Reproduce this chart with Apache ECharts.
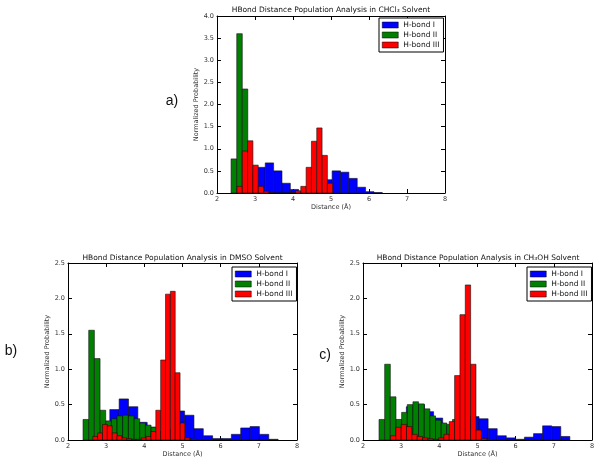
<!DOCTYPE html>
<html>
<head>
<meta charset="utf-8">
<script src="https://cdn.jsdelivr.net/npm/echarts@6/dist/echarts.min.js"></script>
<style>html,body{margin:0;padding:0;background:#fff}#chart{width:600px;height:464px}</style>
</head>
<body>
<div id="chart"></div>
<script>
// ---- data ----
const seriesNames = ['H-bond I', 'H-bond II', 'H-bond III'];
const seriesColors = ['#0000ff', '#008000', '#ff0000'];
const panelTitles = [
  'HBond Distance Population Analysis in CHCl\u2083 Solvent',
  'HBond Distance Population Analysis in DMSO Solvent',
  'HBond Distance Population Analysis in CH\u2083OH Solvent'
];
const panelLetters = ['a)', 'b)', 'c)'];
const xTickMin = 2, xTickMax = 8;
const yMaxA = 4.0, yMaxB = 2.5, yMaxC = 2.5;

// CHCl3
const chcl3BlueEdges = [2.83,3.05,3.27,3.49,3.71,3.93,4.15,4.37,4.59,4.81,5.03,5.25,5.47,5.69,5.91,6.13,6.35];
const chcl3BlueValues = [0.15,0.58,0.68,0.50,0.22,0.08,0.03,0.01,0.05,0.30,0.50,0.47,0.33,0.13,0.03,0.01];
const chcl3GreenEdges = [2.37,2.52,2.665,2.81,2.96,3.10];
const chcl3GreenValues = [0.77,3.60,2.35,0.45,0.10];
const chcl3RedEdges = [2.525,2.665,2.805,2.945,3.085,3.225,3.365,3.505,3.645,3.785,3.925,4.065,4.205,4.345,4.485,4.625,4.765,4.905,5.045];
const chcl3RedValues = [0.15,0.95,1.18,0.63,0.15,0.04,0.01,0,0,0,0.01,0.05,0.15,0.58,1.17,1.47,0.85,0.22];

// DMSO
const dmsoBlueEdges = [2.85,3.095,3.34,3.585,3.83,4.075,4.32,4.565,4.81,5.055,5.30,5.545,5.79,6.035,6.28,6.525,6.77,7.015,7.26,7.505];
const dmsoBlueValues = [0.20,0.43,0.58,0.47,0.25,0.18,0.12,0.15,0.41,0.35,0.16,0.06,0.02,0.02,0.08,0.17,0.19,0.08,0.01];
const dmsoGreenEdges = [2.394,2.543,2.691,2.840,2.988,3.137,3.285,3.434,3.582,3.731,3.879,4.028,4.176,4.325,4.473,4.622,4.770,4.919,5.067,5.216,5.364];
const dmsoGreenValues = [0.29,1.55,1.15,0.42,0.27,0.30,0.34,0.35,0.34,0.30,0.24,0.21,0.18,0.10,0.06,0.04,0.03,0.02,0.02,0.01];
const dmsoRedEdges = [2.650,2.777,2.904,3.031,3.158,3.285,3.412,3.539,3.666,3.793,3.920,4.047,4.174,4.301,4.428,4.555,4.682,4.809,4.936,5.063,5.190];
const dmsoRedValues = [0.05,0.10,0.22,0.20,0.10,0.06,0.03,0.02,0.01,0.01,0.03,0.05,0.12,0.42,1.13,2.06,2.10,0.95,0.24,0.03];

// CH3OH
const ch3ohBlueEdges = [2.898,3.136,3.374,3.612,3.850,4.088,4.326,4.564,4.802,5.040,5.278,5.516,5.754,5.992,6.230,6.468,6.706,6.944,7.182,7.420];
const ch3ohBlueValues = [0.28,0.47,0.50,0.40,0.31,0.20,0.20,0.22,0.33,0.30,0.16,0.06,0.03,0.01,0.04,0.09,0.20,0.19,0.05];
const ch3ohGreenEdges = [2.420,2.568,2.716,2.864,3.012,3.160,3.308,3.456,3.604,3.752,3.900,4.048,4.196,4.344,4.492,4.640,4.788,4.936,5.084,5.232,5.380];
const ch3ohGreenValues = [0.29,1.07,0.61,0.29,0.39,0.50,0.54,0.51,0.44,0.34,0.28,0.24,0.22,0.29,0.15,0.08,0.04,0.02,0.01,0.01];
const ch3ohRedEdges = [2.72,2.86,3.00,3.14,3.28,3.42,3.56,3.70,3.84,3.98,4.12,4.26,4.40,4.54,4.68,4.82,4.96,5.10,5.24];
const ch3ohRedValues = [0.06,0.18,0.22,0.19,0.08,0.05,0.03,0.02,0.01,0.03,0.08,0.26,0.91,1.77,2.19,1.07,0.14,0.02];

// ---- build ----
const FONT = 'DejaVu Sans';
const panels = [
  { grid: {left: 217, top: 16, width: 228, height: 177}, yMax: yMaxA,
    hist: [[chcl3BlueEdges, chcl3BlueValues],[chcl3GreenEdges, chcl3GreenValues],[chcl3RedEdges, chcl3RedValues]],
    title: [331, 10.5], letter: [172, 101], legend: [379, 18] },
  { grid: {left: 68, top: 263, width: 229, height: 177}, yMax: yMaxB,
    hist: [[dmsoBlueEdges, dmsoBlueValues],[dmsoGreenEdges, dmsoGreenValues],[dmsoRedEdges, dmsoRedValues]],
    title: [182.5, 258], letter: [11, 351], legend: [232, 267] },
  { grid: {left: 363, top: 263, width: 229, height: 177}, yMax: yMaxC,
    hist: [[ch3ohBlueEdges, ch3ohBlueValues],[ch3ohGreenEdges, ch3ohGreenValues],[ch3ohRedEdges, ch3ohRedValues]],
    title: [478, 258], letter: [325, 355], legend: [527, 267] }
];

function toBins(edges, values) {
  return values.map((v, i) => [edges[i], edges[i + 1], v]);
}
function renderItem(params, api) {
  const p0 = api.coord([api.value(0), 0]);
  const p1 = api.coord([api.value(1), api.value(2)]);
  return {
    type: 'rect',
    shape: { x: p0[0], y: p1[1], width: p1[0] - p0[0], height: p0[1] - p1[1] },
    style: { fill: api.visual('color'), stroke: '#111', lineWidth: 0.6 }
  };
}

const grids = [], xAxes = [], yAxes = [], series = [], legends = [], graphics = [];
const lineStyle = { color: '#000', width: 1 };
panels.forEach((p, k) => {
  grids.push(Object.assign({ containLabel: false }, p.grid));
  const tick = { show: true, inside: true, length: 4, lineStyle: { color: '#000', width: 1 } };
  xAxes.push({
    type: 'value', gridIndex: k, min: xTickMin, max: xTickMax, interval: 1, position: 'bottom',
    axisLine: { show: true, onZero: false, lineStyle }, axisTick: tick, splitLine: { show: false },
    axisLabel: { fontFamily: FONT, fontSize: 6.5, color: '#333', margin: 3 },
    name: 'Distance (\u00c5)', nameLocation: 'middle', nameGap: 11,
    nameTextStyle: { fontFamily: FONT, fontSize: 6.5, color: '#333' }
  });
  xAxes.push({
    type: 'value', gridIndex: k, min: xTickMin, max: xTickMax, interval: 1, position: 'top',
    axisLine: { show: true, onZero: false, lineStyle }, axisTick: tick, splitLine: { show: false },
    axisLabel: { show: false }
  });
  yAxes.push({
    type: 'value', gridIndex: k, min: 0, max: p.yMax, interval: 0.5, position: 'left',
    axisLine: { show: true, onZero: false, lineStyle }, axisTick: tick, splitLine: { show: false },
    axisLabel: { fontFamily: FONT, fontSize: 6.5, color: '#333', margin: 3, formatter: v => v.toFixed(1) },
    name: 'Normalized Probability', nameLocation: 'middle', nameGap: 16, nameRotate: 90,
    nameTextStyle: { fontFamily: FONT, fontSize: 6.5, color: '#333' }
  });
  yAxes.push({
    type: 'value', gridIndex: k, min: 0, max: p.yMax, interval: 0.5, position: 'right',
    axisLine: { show: true, onZero: false, lineStyle }, axisTick: tick, splitLine: { show: false },
    axisLabel: { show: false }
  });
  p.hist.forEach((h, j) => {
    series.push({
      type: 'custom', name: seriesNames[j], xAxisIndex: 2 * k, yAxisIndex: 2 * k,
      itemStyle: { color: seriesColors[j] }, renderItem: renderItem,
      encode: { x: [0, 1], y: 2 }, data: toBins(h[0], h[1]), clip: true, z: 2 + j
    });
  });
  legends.push({
    orient: 'vertical', left: p.legend[0], top: p.legend[1], data: seriesNames.slice(),
    itemWidth: 16, itemHeight: 6, itemGap: 2, padding: [3, 4, 3, 3],
    backgroundColor: '#fff', borderColor: '#000', borderWidth: 1, borderRadius: 0,
    icon: 'rect', selectedMode: false,
    itemStyle: { borderColor: '#000', borderWidth: 0.5 },
    textStyle: { fontFamily: FONT, fontSize: 7.5, color: '#111', padding: [0, 0, 0, 0] }
  });
  graphics.push({
    type: 'text', x: p.title[0], y: p.title[1],
    style: { text: panelTitles[k], font: '7.5px "DejaVu Sans"', fill: '#111', textAlign: 'center', textVerticalAlign: 'middle' }
  });
  graphics.push({
    type: 'text', x: p.letter[0], y: p.letter[1],
    style: { text: panelLetters[k], font: '14px "Liberation Sans"', fill: '#111', textAlign: 'center', textVerticalAlign: 'middle' }
  });
});

const chart = echarts.init(document.getElementById('chart'), null, { renderer: 'canvas' });
chart.setOption({
  animation: false,
  backgroundColor: '#fff',
  grid: grids, xAxis: xAxes, yAxis: yAxes, series: series, legend: legends, graphic: graphics
});
</script>
</body>
</html>
